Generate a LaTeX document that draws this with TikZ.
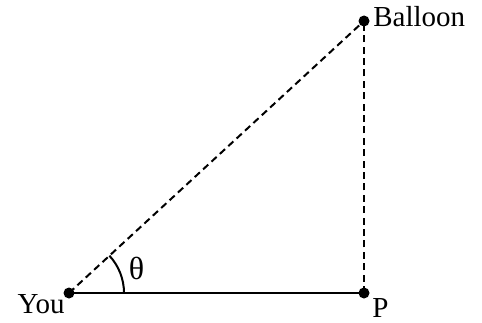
\documentclass[tikz,border=0pt]{standalone}
\usepackage{fontspec}
\setmainfont{Liberation Serif}
\usetikzlibrary{calc}

\begin{document}
\begin{tikzpicture}[
		x=0.5pt, y=0.5pt,
		dot/.style={circle, fill=black, inner sep=0pt, minimum size=5.5pt},
		leg/.style={line width=1pt, color=black},
		dashleg/.style={leg, dash pattern=on 3.5pt off 2.2pt},
		lbl/.style={inner sep=0pt, font=\fontsize{14.5}{16}\selectfont}
		]
		\useasboundingbox (0,0) rectangle (482,322);
		\node[dot] (you) at (69,29) {};
		\node[dot] (p) at (364,29) {};
		\node[dot] (balloon) at (364,301) {};

		\draw[leg] (you.center) -- (p.center);
		\draw[dashleg] (you.center) -- (balloon.center);
		\draw[dashleg] (p.center) -- (balloon.center);
		\draw[leg] ($(you)+(55,0)$) arc[start angle=0, end angle=42.7, radius=55];

		\node[lbl, anchor=base east] (youlbl) at (65,9) {You};
		\node[lbl, anchor=base west] (plbl) at (372,5) {P};
		\node[lbl, anchor=base west] (balloonlbl) at (373,295) {Balloon};
		\node[lbl, font=\fontsize{16}{18}\selectfont] (theta) at (136.5,54) {θ};
	\end{tikzpicture}
\end{document}
